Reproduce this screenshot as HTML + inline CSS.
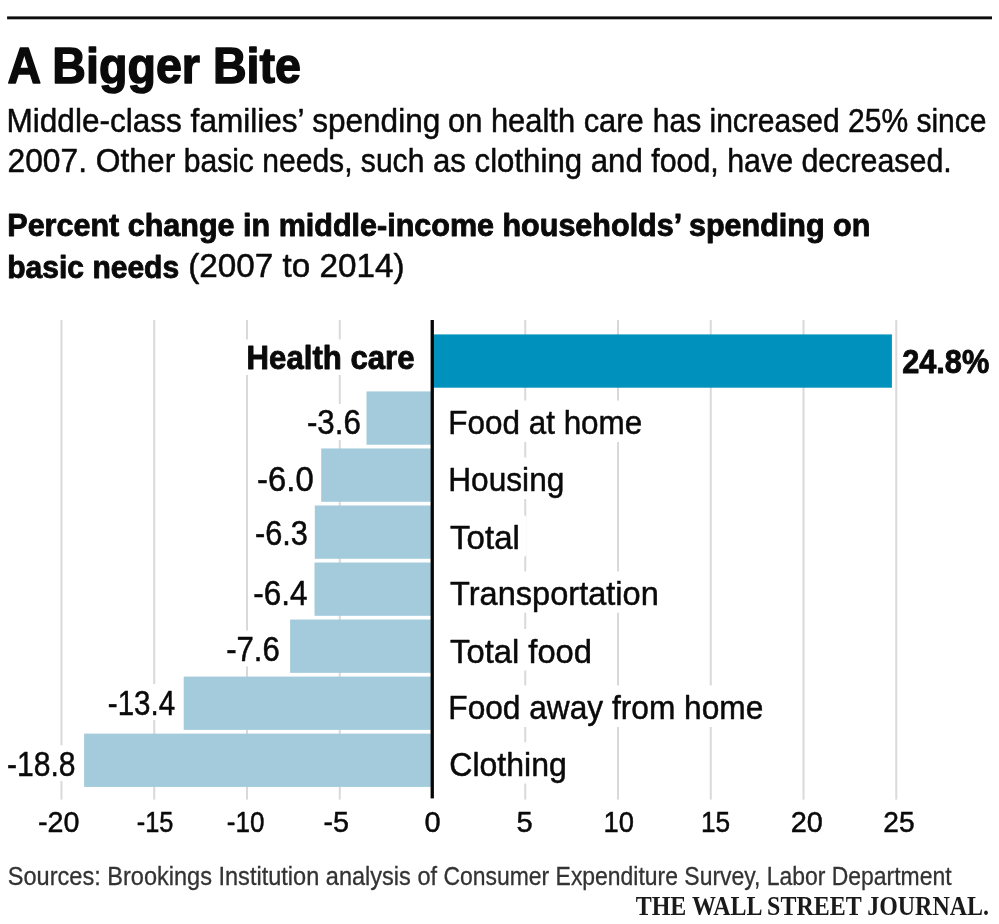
<!DOCTYPE html>
<html lang="en"><head><meta charset="utf-8"><title>A Bigger Bite</title>
<style>html,body{margin:0;padding:0;background:#fff}body{width:999px;height:924px;overflow:hidden}svg{display:block}text{font-family:"Liberation Sans", sans-serif;fill:#0a0a0a;stroke:#0a0a0a;stroke-width:.5px;stroke-linejoin:round}.b{font-weight:bold}.wsj{font-family:"Liberation Serif", serif;font-weight:bold;stroke-width:0;fill:#1a1a1a}.src{fill:#333;stroke:#333;stroke-width:.3px}</style></head><body>
<svg width="999" height="924" viewBox="0 0 999 924">
<rect width="999" height="924" fill="#fff"/>
<rect id="rule" x="7.1" y="16.4" width="984.9" height="2.9" fill="#0d0d0d"/>
<g id="grid">
<rect x="60.48" y="320" width="2" height="479.6" fill="#d9d9d9"/>
<rect x="153.23" y="320" width="2" height="479.6" fill="#d9d9d9"/>
<rect x="245.99" y="320" width="2" height="479.6" fill="#d9d9d9"/>
<rect x="338.75" y="320" width="2" height="479.6" fill="#d9d9d9"/>
<rect x="524.25" y="320" width="2" height="479.6" fill="#d9d9d9"/>
<rect x="617.01" y="320" width="2" height="479.6" fill="#d9d9d9"/>
<rect x="709.76" y="320" width="2" height="479.6" fill="#d9d9d9"/>
<rect x="802.52" y="320" width="2" height="479.6" fill="#d9d9d9"/>
<rect x="895.27" y="320" width="2" height="479.6" fill="#d9d9d9"/>
</g>
<g id="halos">
<rect x="243.40" y="339.48" width="176.40" height="35.42" rx="3" fill="#fff"/>
<rect x="898.90" y="344.11" width="94.10" height="34.29" rx="3" fill="#fff"/>
<rect x="444.60" y="400.48" width="204.90" height="41.42" rx="3" fill="#fff"/>
<rect x="444.60" y="457.48" width="126.40" height="41.42" rx="3" fill="#fff"/>
<rect x="444.60" y="515.28" width="81.90" height="41.42" rx="3" fill="#fff"/>
<rect x="444.60" y="571.38" width="220.90" height="41.42" rx="3" fill="#fff"/>
<rect x="444.60" y="629.08" width="153.90" height="41.42" rx="3" fill="#fff"/>
<rect x="444.60" y="685.58" width="325.90" height="41.42" rx="3" fill="#fff"/>
<rect x="444.60" y="742.18" width="128.90" height="41.42" rx="3" fill="#fff"/>
<rect x="303.00" y="403.97" width="61.60" height="35.93" rx="3" fill="#fff"/>
<rect x="253.40" y="460.37" width="64.20" height="35.93" rx="3" fill="#fff"/>
<rect x="251.00" y="514.77" width="60.60" height="35.93" rx="3" fill="#fff"/>
<rect x="249.40" y="574.37" width="62.40" height="35.93" rx="3" fill="#fff"/>
<rect x="222.20" y="630.47" width="61.30" height="35.93" rx="3" fill="#fff"/>
<rect x="103.90" y="684.07" width="75.50" height="35.93" rx="3" fill="#fff"/>
<rect x="3.00" y="745.17" width="76.50" height="35.93" rx="3" fill="#fff"/>
</g>
<g id="bars">
<rect x="432.40" y="334.40" width="459.50" height="53.30" fill="#0092bc"/>
<rect x="366.50" y="391.43" width="65.90" height="53.30" fill="#a3cbdc"/>
<rect x="321.20" y="448.46" width="111.20" height="53.30" fill="#a3cbdc"/>
<rect x="314.80" y="505.49" width="117.60" height="53.30" fill="#a3cbdc"/>
<rect x="314.50" y="562.52" width="117.90" height="53.30" fill="#a3cbdc"/>
<rect x="290.10" y="619.55" width="142.30" height="53.30" fill="#a3cbdc"/>
<rect x="183.70" y="676.58" width="248.70" height="53.30" fill="#a3cbdc"/>
<rect x="84.10" y="733.61" width="348.30" height="53.30" fill="#a3cbdc"/>
<rect x="430.6" y="320" width="3.3" height="478.4" fill="#050505"/>
</g>
<g id="texts">
<text id="title" x="7.49" y="82.90" font-size="49.30" textLength="293.52" lengthAdjust="spacingAndGlyphs" class="b" style="stroke-width:1.4px">A Bigger Bite</text>
<text y="132.40" font-size="33.00"><tspan id="sub1a" x="6.53" textLength="433.74" lengthAdjust="spacingAndGlyphs">Middle-class families’ spending</tspan> <tspan id="sub1b" x="447.99" textLength="195.78" lengthAdjust="spacingAndGlyphs">on health care</tspan> <tspan id="sub1c" x="652.74" textLength="333.77" lengthAdjust="spacingAndGlyphs">has increased 25% since</tspan></text>
<text y="172.40" font-size="33.00"><tspan id="sub2a" x="7.54" textLength="167.72" lengthAdjust="spacingAndGlyphs">2007. Other</tspan> <tspan id="sub2b" x="183.72" textLength="240.65" lengthAdjust="spacingAndGlyphs">basic needs, such</tspan> <tspan id="sub2c" x="432.99" textLength="209.79" lengthAdjust="spacingAndGlyphs">as clothing and</tspan> <tspan id="sub2d" x="651.25" textLength="300.47" lengthAdjust="spacingAndGlyphs">food, have decreased.</tspan></text>
<text id="bold1" x="7.29" y="236.00" font-size="32.00" textLength="863.11" lengthAdjust="spacingAndGlyphs" class="b" style="stroke-width:0.9px">Percent change in middle-income households’ spending on</text>
<text id="bold2a" x="7.28" y="277.50" font-size="32.00" textLength="171.89" lengthAdjust="spacingAndGlyphs" class="b" style="stroke-width:0.9px">basic needs</text>
<text id="bold2b" x="188.22" y="277.30" font-size="33.00" textLength="216.26" lengthAdjust="spacingAndGlyphs">(2007 to 2014)</text>
<text id="hc" x="246.62" y="369.40" font-size="33.50" textLength="167.94" lengthAdjust="spacingAndGlyphs" class="b" style="stroke-width:0.9px">Health care</text>
<text id="pct" x="902.14" y="373.40" font-size="34.00" textLength="87.13" lengthAdjust="spacingAndGlyphs" class="b" style="stroke-width:0.9px">24.8%</text>
<text id="lab0" x="448.30" y="433.90" font-size="33.50" textLength="193.97" lengthAdjust="spacingAndGlyphs">Food at home</text>
<text id="lab1" x="448.26" y="490.90" font-size="33.50" textLength="116.11" lengthAdjust="spacingAndGlyphs">Housing</text>
<text id="lab2" x="450.09" y="548.70" font-size="33.50" textLength="69.79" lengthAdjust="spacingAndGlyphs">Total</text>
<text id="lab3" x="450.10" y="604.80" font-size="33.50" textLength="208.67" lengthAdjust="spacingAndGlyphs">Transportation</text>
<text id="lab4" x="450.09" y="662.50" font-size="33.50" textLength="141.91" lengthAdjust="spacingAndGlyphs">Total food</text>
<text id="lab5" x="448.32" y="719.00" font-size="33.50" textLength="314.94" lengthAdjust="spacingAndGlyphs">Food away from home</text>
<text id="lab6" x="449.31" y="775.60" font-size="33.50" textLength="117.49" lengthAdjust="spacingAndGlyphs">Clothing</text>
<text id="val0" x="306.96" y="434.40" font-size="34.20" textLength="53.89" lengthAdjust="spacingAndGlyphs">-3.6</text>
<text id="val1" x="257.10" y="490.80" font-size="34.20" textLength="56.57" lengthAdjust="spacingAndGlyphs">-6.0</text>
<text id="val2" x="254.96" y="545.20" font-size="34.20" textLength="52.89" lengthAdjust="spacingAndGlyphs">-6.3</text>
<text id="val3" x="253.36" y="604.80" font-size="34.20" textLength="54.26" lengthAdjust="spacingAndGlyphs">-6.4</text>
<text id="val4" x="226.15" y="660.90" font-size="34.20" textLength="53.62" lengthAdjust="spacingAndGlyphs">-7.6</text>
<text id="val5" x="107.87" y="714.50" font-size="34.20" textLength="67.30" lengthAdjust="spacingAndGlyphs">-13.4</text>
<text id="val6" x="6.97" y="775.60" font-size="34.20" textLength="68.56" lengthAdjust="spacingAndGlyphs">-18.8</text>
<text id="tick0" x="37.95" y="831.80" font-size="29.50" textLength="41.44" lengthAdjust="spacingAndGlyphs">-20</text>
<text id="tick1" x="136.71" y="831.80" font-size="29.50" textLength="36.65" lengthAdjust="spacingAndGlyphs">-15</text>
<text id="tick2" x="226.81" y="831.80" font-size="29.50" textLength="37.64" lengthAdjust="spacingAndGlyphs">-10</text>
<text id="tick3" x="323.46" y="831.80" font-size="29.50" textLength="25.53" lengthAdjust="spacingAndGlyphs">-5</text>
<text id="tick4" x="424.39" y="831.80" font-size="29.50" textLength="16.12" lengthAdjust="spacingAndGlyphs">0</text>
<text id="tick5" x="516.62" y="831.80" font-size="29.50" textLength="16.16" lengthAdjust="spacingAndGlyphs">5</text>
<text id="tick6" x="603.55" y="831.80" font-size="29.50" textLength="30.44" lengthAdjust="spacingAndGlyphs">10</text>
<text id="tick7" x="700.90" y="831.80" font-size="29.50" textLength="29.17" lengthAdjust="spacingAndGlyphs">15</text>
<text id="tick8" x="790.77" y="831.80" font-size="29.50" textLength="32.14" lengthAdjust="spacingAndGlyphs">20</text>
<text id="tick9" x="883.32" y="831.80" font-size="29.50" textLength="31.28" lengthAdjust="spacingAndGlyphs">25</text>
<text y="884.60" font-size="26.00" class="src"><tspan id="srca" x="7.80" textLength="429.25" lengthAdjust="spacingAndGlyphs">Sources: Brookings Institution analysis of</tspan> <tspan id="srcb" x="443.50" textLength="508.00" lengthAdjust="spacingAndGlyphs">Consumer Expenditure Survey, Labor Department</tspan></text>
<text id="wsj" x="635.75" y="914.50" font-size="28.00" textLength="353.25" lengthAdjust="spacingAndGlyphs" class="wsj">THE WALL STREET JOURNAL.</text>
</g>
</svg></body></html>
